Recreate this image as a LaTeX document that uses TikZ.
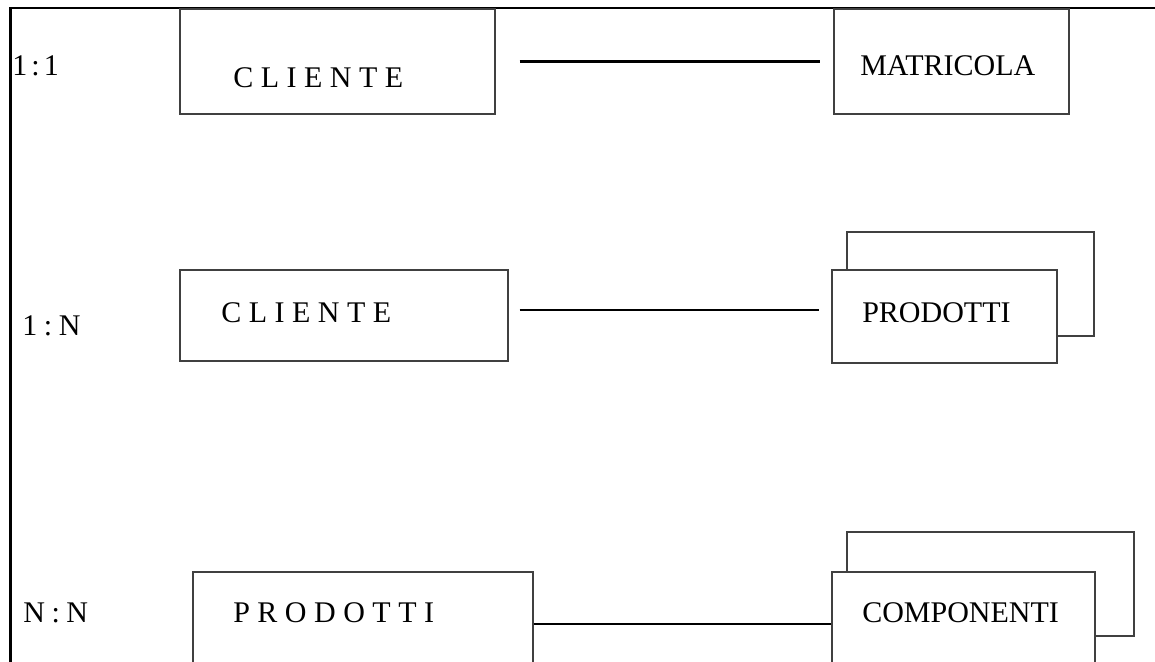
\documentclass[tikz,border=0pt]{standalone}
\usepackage{fontspec}
\setmainfont{Liberation Serif}
\begin{document}
\begin{tikzpicture}[x=0.75pt,y=-0.75pt,
  box/.style n args={2}{draw=black!75, line width=0.8pt, fill=white, inner sep=0pt,
     minimum width=#1*0.75pt, minimum height=#2*0.75pt},
  lbl/.style={anchor=base west, inner sep=0pt, font=\fontsize{22.5pt}{27pt}\selectfont},
  link/.style={draw=black, line width=#1},
  link/.default=1pt,
  frame/.style={draw=black, line width=1.8pt}]
\useasboundingbox (0,0) rectangle (1155,661);
\clip (0,0) rectangle (1155,661);
% frame
\coordinate (ftl) at (10.5,8);
\coordinate (fbl) at (10.5,670);
\coordinate (ftr) at (1160,8);
\draw[frame] (fbl) -- (ftl) -- (ftr);
% row 1
\node[box={315}{105}] (c1) at (337.5,61.5) {};
\node[box={235}{105}] (m1) at (951.5,61.5) {};
\draw[link=1.6pt, shorten <=24*0.75pt, shorten >=13*0.75pt] (c1.east) -- (m1.west);
\node[lbl] (t11) at (12,75) {1\hspace{0.14em}:\hspace{0.14em}1};
\node[lbl] (tc1) at (233,87) {C L I E N T E};
\node[lbl] (tm1) at (860,75) {MATRICOLA};
% row 2
\node[box={328}{91}] (c2) at (344,315.5) {};
\node[box={247}{104}] (p2b) at (970.5,284) {};
\node[box={225}{93}] (p2) at (944.5,316.5) {};
\draw[link=1pt] ([shift={(11,-5.5)}]c2.east) -- ([shift={(-12,-6.5)}]p2.west);
\node[lbl] (t1n) at (22,335) {1\hspace{0.22em}:\hspace{0.22em}N};
\node[lbl] (tc2) at (221,322) {C L I E N T E};
\node[lbl] (tp2) at (862,322) {PRODOTTI};
% row 3
\node[box={340}{108}] (p3) at (363,626) {};
\node[box={287}{104}] (c3b) at (990.5,584) {};
\node[box={263}{108}] (c3) at (963.5,626) {};
\draw[link=1.1pt] ([shift={(0,-2)}]p3.east) -- ([shift={(0,-2)}]c3.west);
\node[lbl] (tnn) at (23,622) {N\hspace{0.22em}:\hspace{0.22em}N};
\node[lbl] (tp3) at (233,622) {P R O D O T T I};
\node[lbl] (tc3) at (862,622) {COMPONENTI};
\end{tikzpicture}
\end{document}
